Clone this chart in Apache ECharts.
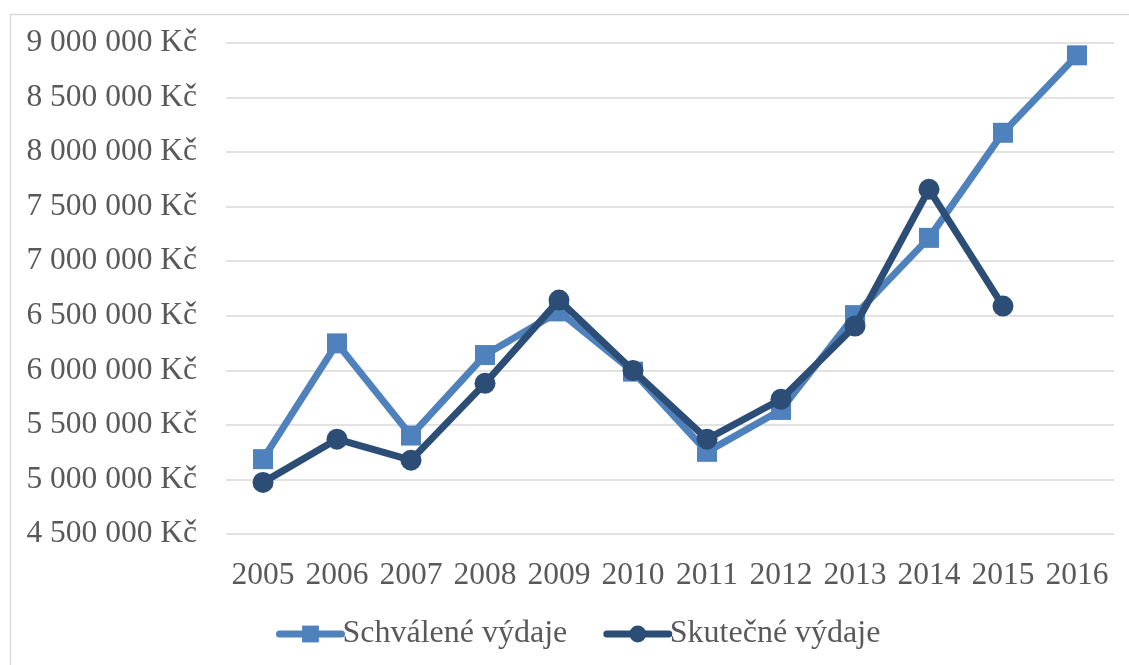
<!DOCTYPE html>
<html><head><meta charset="utf-8">
<script src="https://cdn.jsdelivr.net/npm/echarts@6/dist/echarts.min.js"></script>
<style>html,body{margin:0;padding:0;background:#fff}#c{width:1129px;height:665px}</style>
</head><body><div id="c"></div>
<script>
const years = ['2005','2006','2007','2008','2009','2010','2011','2012','2013','2014','2015','2016'];
const schvalene = [5186000, 6247000, 5402000, 6140000, 6540000, 5988000, 5253000, 5637000, 6506000, 7214000, 8177000, 8887000];
const skutecne = [4973000, 5369000, 5177000, 5881000, 6644000, 5998000, 5369000, 5735000, 6406000, 7659000, 6589000, null];
const seriesNames = ['Schválené výdaje', 'Skutečné výdaje'];
const yMin = 4500000, yMax = 9000000, yStep = 500000;

const font = '"Liberation Serif", "Times New Roman", serif';
const fmt = v => String(v).replace(/\B(?=(\d{3})+(?!\d))/g, ' ') + ' Kč';

const chart = echarts.init(document.getElementById('c'), null, {renderer: 'canvas'});
chart.setOption({
  animation: false,
  backgroundColor: '#fff',
  graphic: [{
    type: 'rect', left: 8, top: 12, z: -1,
    shape: {width: 1140, height: 670},
    style: {fill: 'none', stroke: '#D9D9D9', lineWidth: 1.5}
  }],
  grid: {left: 226, right: 15, top: 43, bottom: 131, containLabel: false},
  legend: {
    bottom: 10, left: 271,
    itemWidth: 62, itemHeight: 21, itemGap: 36,
    lineStyle: {width: 7, cap: 'round'},
    textStyle: {fontFamily: font, fontSize: 32, color: '#595959', padding: [0, 0, 0, -4]},
    data: seriesNames
  },
  xAxis: {
    type: 'category', data: years, boundaryGap: true,
    axisLine: {show: false}, axisTick: {show: false},
    axisLabel: {fontFamily: font, fontSize: 31.5, color: '#595959', margin: 26, interval: 0}
  },
  yAxis: {
    type: 'value', min: yMin, max: yMax, interval: yStep,
    axisLine: {show: false}, axisTick: {show: false},
    splitLine: {lineStyle: {color: '#D9D9D9', width: 1.5}},
    axisLabel: {fontFamily: font, fontSize: 31.5, color: '#595959', margin: 29, formatter: fmt}
  },
  series: [
    {
      name: seriesNames[0], type: 'line', data: schvalene,
      symbol: 'rect', symbolSize: 20,
      itemStyle: {color: '#4F81BD'},
      lineStyle: {color: '#4F81BD', width: 7, cap: 'round', join: 'round'},
      z: 2
    },
    {
      name: seriesNames[1], type: 'line', data: skutecne,
      symbol: 'circle', symbolSize: 21,
      itemStyle: {color: '#2C4D75'},
      lineStyle: {color: '#2C4D75', width: 7, cap: 'round', join: 'round'},
      z: 3
    }
  ]
});
</script></body></html>
